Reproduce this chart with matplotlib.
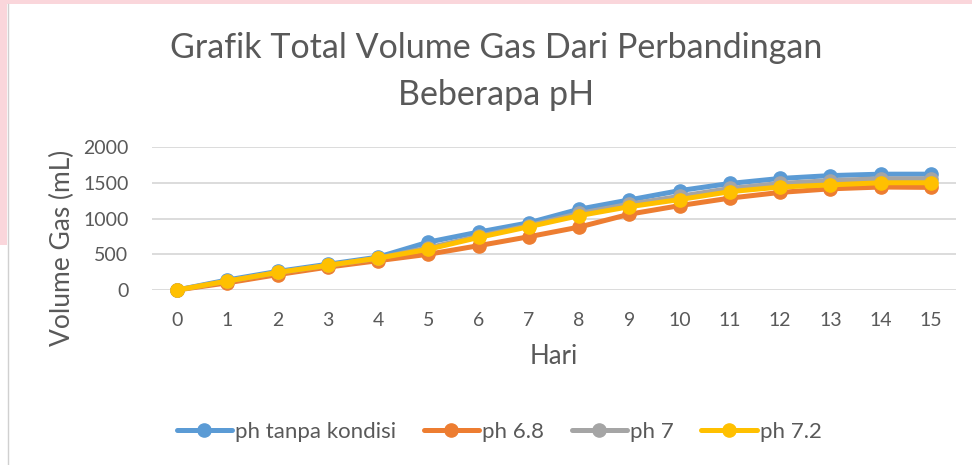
import matplotlib
matplotlib.use("Agg")
import matplotlib.pyplot as plt
from matplotlib.patches import Rectangle
from matplotlib.lines import Line2D

plt.rcParams['font.family'] = ['Lato', 'DejaVu Sans']

days = list(range(16))
ph_tanpa = [0, 140, 260, 360, 460, 670, 810, 940, 1130, 1260, 1390, 1490, 1560, 1600, 1620, 1620]
ph_68 = [0, 100, 215, 320, 410, 500, 620, 745, 880, 1060, 1180, 1285, 1365, 1415, 1440, 1435]
ph_7 = [0, 125, 245, 345, 445, 590, 750, 900, 1070, 1200, 1310, 1420, 1490, 1530, 1555, 1555]
ph_72 = [0, 125, 245, 345, 445, 570, 735, 885, 1040, 1165, 1265, 1375, 1440, 1470, 1500, 1500]
series_names = ['ph tanpa kondisi', 'ph 6.8', 'ph 7', 'ph 7.2']
colors = ['#5B9BD5', '#ED7D31', '#A5A5A5', '#FFC000']
yticks = [0, 500, 1000, 1500, 2000]

W, H = 972, 465
fig = plt.figure(figsize=(W / 100, H / 100), dpi=100)
fig.patch.set_facecolor('white')

# page edge decorations
fig.patches.append(Rectangle((0, 1 - 245 / H), 7 / W, 245 / H, transform=fig.transFigure,
                             facecolor='#FAD6DB', edgecolor='none', zorder=0))
fig.patches.append(Rectangle((0, 1 - 4 / H), 1, 4 / H, transform=fig.transFigure,
                             facecolor='#FAD6DB', edgecolor='none', zorder=0))
fig.lines.append(Line2D([7.5 / W, 7.5 / W], [0, 1 - 4 / H], transform=fig.transFigure,
                        color='#D0D0D0', lw=1))

ax = fig.add_axes([152 / W, (H - 290) / H, (956 - 152) / W, 143 / H])
text_c = '#595959'
for vals, c, n in zip([ph_tanpa, ph_68, ph_7, ph_72], colors, series_names):
    ax.plot(days, vals, color=c, lw=3.6, marker='o', markersize=9.5, label=n,
            solid_capstyle='round', solid_joinstyle='round', clip_on=False)

ax.set_xlim(-0.5, 15.5)
ax.set_ylim(0, 2000)
ax.set_yticks(yticks)
ax.set_xticks(days)
ax.set_xticklabels([str(d) for d in days])
ax.yaxis.grid(True, color='#D9D9D9', lw=1.3)
ax.set_axisbelow(True)
for s in ax.spines.values():
    s.set_visible(False)
ax.tick_params(axis='both', length=0, labelsize=14, labelcolor=text_c)
ax.tick_params(axis='y', pad=17)
ax.tick_params(axis='x', pad=16)

fig.text(496 / W, 1 - 48 / H, 'Grafik Total Volume Gas Dari Perbandingan', ha='center', va='center',
         fontsize=24.5, color=text_c)
fig.text(496 / W, 1 - 95 / H, 'Beberapa pH', ha='center', va='center', fontsize=24.5, color=text_c)
fig.text(554 / W, 1 - 357 / H, 'Hari', ha='center', va='center', fontsize=18.5, color=text_c)
fig.text(62 / W, 1 - 248 / H, 'Volume Gas (mL)', ha='center', va='center', rotation=90,
         fontsize=19, color=text_c)

leg = fig.legend(loc='center', bbox_to_anchor=(499 / W, 1 - 432 / H), ncol=4, frameon=False,
                 fontsize=16, handlelength=2.5, handletextpad=0.12, columnspacing=1.25,
                 numpoints=1, labelcolor=text_c)

fig.savefig('out.png', dpi=100, facecolor='white')
